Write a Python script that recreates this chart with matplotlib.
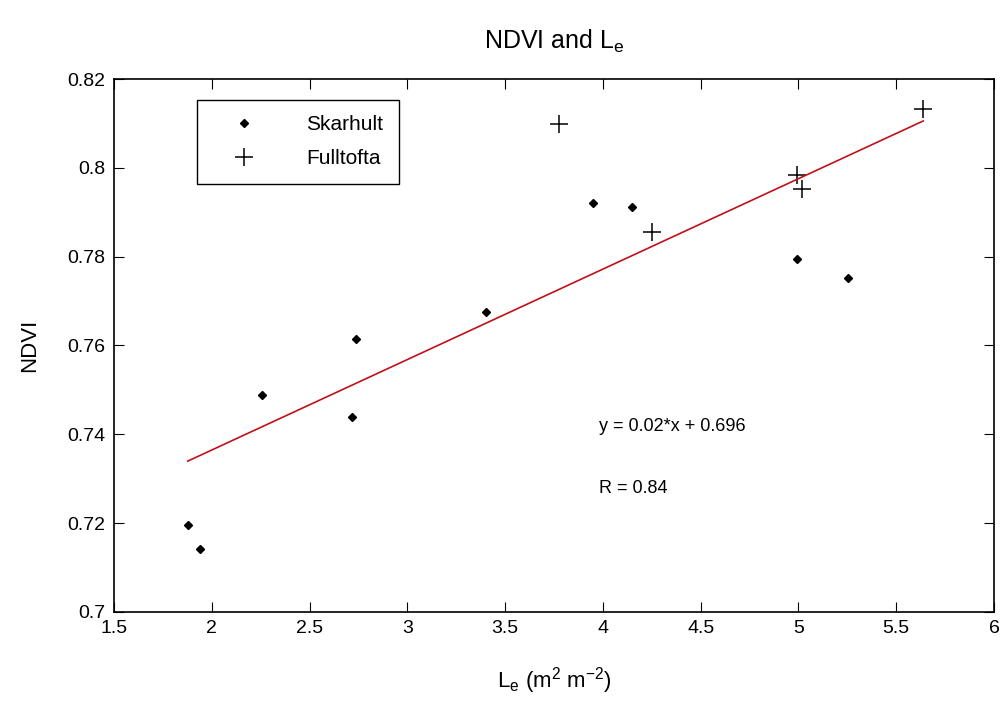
import matplotlib.pyplot as plt
import numpy as np

plt.rcParams['font.family'] = ['Liberation Sans', 'DejaVu Sans']
plt.rcParams['mathtext.fontset'] = 'custom'
plt.rcParams['mathtext.rm'] = 'Liberation Sans'
plt.rcParams['mathtext.it'] = 'Liberation Sans'

# Skarhult
sk_le = [1.877, 1.938, 2.255, 2.718, 2.74, 3.40, 3.95, 4.147, 4.993, 5.253]
sk_ndvi = [0.7195, 0.7142, 0.7489, 0.7440, 0.7615, 0.7675, 0.7920, 0.7911, 0.7794, 0.7753]
# Fulltofta
ft_le = [3.775, 4.25, 4.993, 5.017, 5.638]
ft_ndvi = [0.8099, 0.7856, 0.7984, 0.7952, 0.8132]

x_ticks = [1.5, 2, 2.5, 3, 3.5, 4, 4.5, 5, 5.5, 6]
y_ticks = [0.7, 0.72, 0.74, 0.76, 0.78, 0.8, 0.82]
y_tick_labels = ['0.7', '0.72', '0.74', '0.76', '0.78', '0.8', '0.82']

fig = plt.figure(figsize=(10.05, 7.13), dpi=100)
ax = fig.add_axes([114/1005, 1 - 612/713, 880/1005, 533/713])

ax.plot(sk_le, sk_ndvi, 'kD', markersize=4.5, label='Skarhult')
ax.plot(ft_le, ft_ndvi, 'k+', markersize=13, mew=1.1, label='Fulltofta')

# linear fit over both sites
all_x = np.array(sk_le + ft_le)
all_y = np.array(sk_ndvi + ft_ndvi)
p = np.polyfit(all_x, all_y, 1)
xx = np.array([all_x.min(), all_x.max()])
ax.plot(xx, np.polyval(p, xx), color='#c0101a', lw=1.2)

ax.text(3.98, 0.7417, 'y = 0.02*x + 0.696', fontsize=13, va='center')
ax.text(3.98, 0.7279, 'R = 0.84', fontsize=13, va='center')

ax.set_xlim(1.5, 6)
ax.set_ylim(0.7, 0.82)
ax.set_xticks(x_ticks)
ax.set_xticklabels([('%g' % t) for t in x_ticks])
ax.set_yticks(y_ticks)
ax.set_yticklabels(y_tick_labels)
ax.tick_params(direction='in', top=True, right=True, length=7, labelsize=14, pad=6)
for s in ax.spines.values():
    s.set_linewidth(1.2)

ax.set_xlabel('L$_e$ (m$^2$ m$^{-2}$)', fontsize=16, labelpad=20)
ax.set_ylabel('NDVI', fontsize=16, labelpad=20)
ax.set_title('NDVI and L$_e$', fontsize=18, pad=22)

leg = ax.legend(loc='upper left', bbox_to_anchor=(0.094, 0.961), borderaxespad=0,
                fontsize=15, fancybox=False, edgecolor='black', framealpha=1,
                handletextpad=1.5, borderpad=0.75, labelspacing=0.7, handlelength=3.0)
leg.get_frame().set_linewidth(1.0)

plt.savefig('out.png', dpi=100)
